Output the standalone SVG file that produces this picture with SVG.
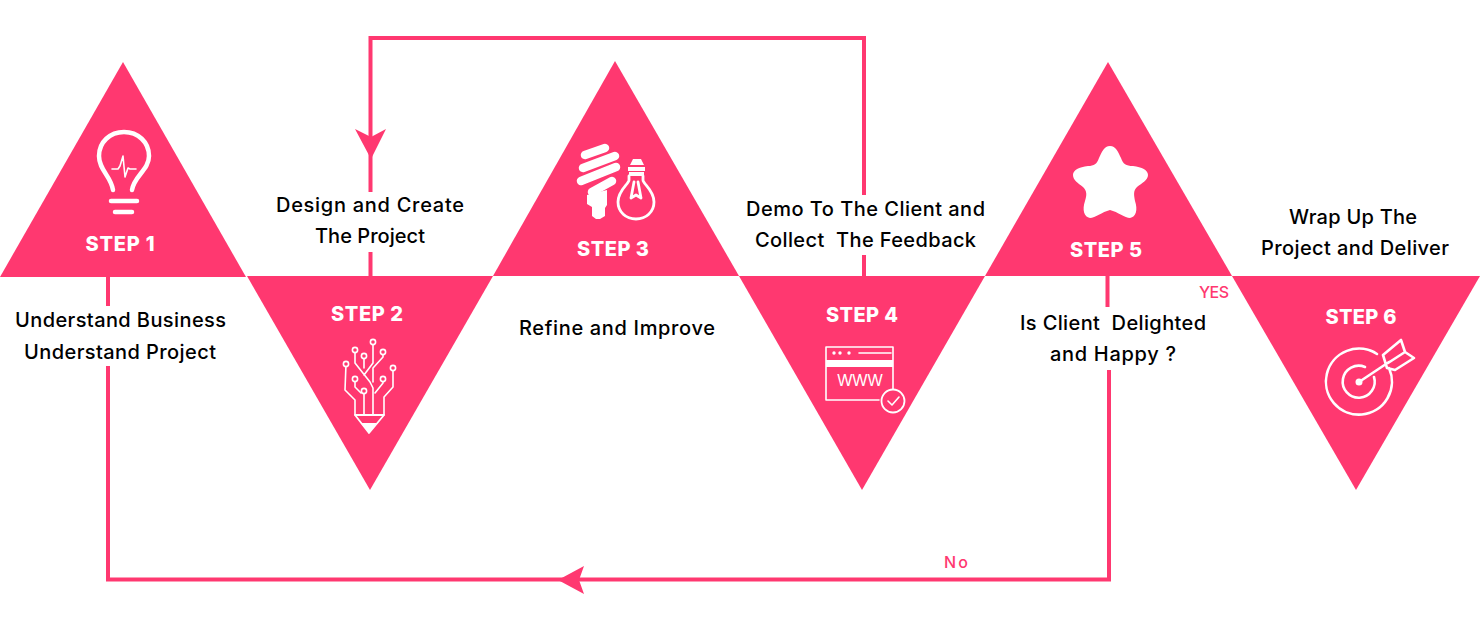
<svg xmlns="http://www.w3.org/2000/svg" width="1480" height="619" viewBox="0 0 1480 619">
<defs><style>
.t{fill:#ff3870}
.c{fill:none;stroke:#ff3870;stroke-width:4}
.a{fill:#ff3870}
.s{font:800 20px Inter,"Liberation Sans",sans-serif;fill:#fff;text-anchor:middle}
.l{font:500 20px Inter,"Liberation Sans",sans-serif;fill:#000;text-anchor:middle}
.k{font:500 16px Inter,"Liberation Sans",sans-serif;fill:#ff3870;text-anchor:middle}
.w{fill:none;stroke:#fff;stroke-width:2.5;stroke-linecap:round;stroke-linejoin:round}
.f{fill:#fff}
</style></defs>
<rect width="1480" height="619" fill="#fff"/>
<g id="step1"><polygon class="t" points="123,62 246,277 0,277"/>
<path class="w" style="stroke-width:4.5" d="M113 190C111 176 99 170 99 156C99 142 110 132 124 132C138 132 149 142 149 156C149 170 134 176 132 190"/>
<path class="w" style="stroke-width:1.6" d="M112 169H118L120 166L123 156L125 177L128 168L130 169H136"/>
<path class="w" style="stroke-width:4.5" d="M111 201H137M115 212H132"/>
<text class="s" x="120" y="251" textLength="69">STEP 1</text></g>
<g id="step2"><polygon class="t" points="247,276 493,276 370,490"/>
<text class="s" x="367" y="321" textLength="72">STEP 2</text>
<path class="w" style="stroke-width:1.6" d="M355 415V400L345 390L346 364M364 415V391M384 415V397L393 387V368M355 350V363L370 382L373 388V415M364 356V368M373 342V363L364 375M383 352V357L373 368V382M383 379V383L375 393M355 379V387L361 393"/>
<g fill="#ff3870" stroke="#fff" stroke-width="1.6"><circle cx="346" cy="364" r="2.6"/><circle cx="355" cy="350" r="2.6"/><circle cx="364" cy="356" r="2.6"/><circle cx="373" cy="342" r="2.6"/><circle cx="383" cy="352" r="2.6"/><circle cx="393" cy="368" r="2.6"/><circle cx="383" cy="379" r="2.6"/><circle cx="355" cy="379" r="2.6"/><circle cx="364" cy="391" r="2.6"/></g>
<path class="w" style="stroke-width:1.8" d="M355 415H384L369 433Z"/>
<path class="f" d="M361 423H377L369 433Z"/>
</g>
<g id="step3"><polygon class="t" points="615,61 739,276 493,276"/>
<path class="w" style="stroke-width:8.500" d="M585 155L605 148M583 168L615 156M581 181L616 167M592 192L612 181"/>
<path class="f" d="M587 195L607 190V205L605 208V216L600 219H596L592 216V207L587 204Z"/>
<path class="w" style="stroke-width:2.8" d="M629 176V180C629 184 618 190 618 202C618 212 626 219 636 219C646 219 654 212 654 202C654 190 643 184 643 180V176M631 198L634 182M641 198L638 182M631 198L636 195L641 198"/>
<path class="f" d="M633 159H641L644 165H630ZM628 167H645V171H628ZM629 172H644V176H629Z"/>
<text class="s" x="613" y="256" textLength="72">STEP 3</text></g>
<g id="step4"><polygon class="t" points="739,276 985,276 862,490"/>
<text class="s" x="862" y="322" textLength="72">STEP 4</text>
<path class="w" style="stroke-width:1.6" d="M879 400H826V347H893V390M859 353H891"/>
<rect class="f" x="826" y="360" width="67" height="7"/>
<g class="f"><circle cx="834" cy="353" r="1.7"/><circle cx="840" cy="353" r="1.7"/><circle cx="849" cy="353" r="1.7"/></g>
<text x="860" y="386" text-anchor="middle" font-family="Inter,sans-serif" font-size="16" font-weight="400" fill="#fff" textLength="46">WWW</text>
<circle cx="893" cy="401" r="11.5" fill="#ff3870" stroke="#fff" stroke-width="1.8"/>
<path class="w" style="stroke-width:1.6" d="M888 401L892 405L899 397"/></g>
<g id="step5"><polygon class="t" points="1108,62 1232,276 985,276"/>
<path class="f" d="M1110 146C1116 146 1118 152 1121 158C1123 164 1126 166 1133 166C1142 167 1148 170 1148 175C1148 180 1142 183 1137 187C1133 191 1134 195 1135 201C1138 210 1136 217 1130 218C1125 218 1118 212 1110 210C1102 212 1095 218 1090 218C1084 217 1082 210 1085 201C1087 195 1087 191 1083 187C1078 183 1073 180 1073 175C1073 170 1079 167 1088 166C1094 166 1097 164 1099 158C1102 152 1104 146 1110 146Z"/>
<text class="s" x="1106" y="257" textLength="72">STEP 5</text></g>
<g id="step6"><polygon class="t" points="1232,276 1480,276 1356,490"/>
<text class="s" x="1361" y="324" textLength="71">STEP 6</text>
<path class="w" style="stroke-width:2.6" d="M1377 354A33 33 0 1 0 1389 368M1365 367A16 16 0 1 0 1374 377M1359 382L1389 362M1383 355L1401 340L1405 352L1414 358L1395 370L1387 368ZM1388 363L1405 352"/>
<circle class="f" cx="1359" cy="382" r="3.5"/></g>
<g id="connectors">
<path class="c" d="M108 276V306M108 366V579.500H1109V370M1107.500 276V307"/>
<path class="c" d="M370.500 192V38H864V195M370.500 252V276M864 255V276"/>
<path class="a" d="M355 129L371 137L386 129L371 159Z"/>
<path class="a" d="M558 580L584 566L579 580L584 594Z"/>
</g>
<g id="labels">
<text class="l" x="120.500" y="327" textLength="211">Understand Business</text>
<text class="l" x="120" y="359" textLength="192">Understand Project</text>
<text class="l" x="370" y="212" textLength="188">Design and Create</text>
<text class="l" x="370" y="243" textLength="110">The Project</text>
<text class="l" x="617" y="335" textLength="196">Refine and Improve</text>
<text class="l" x="865.500" y="216" textLength="239">Demo To The Client and</text>
<text class="l" x="865.500" y="247" textLength="221" xml:space="preserve">Collect  The Feedback</text>
<text class="l" x="1113" y="330" textLength="186" xml:space="preserve">Is Client  Delighted</text>
<text class="l" x="1113" y="361" textLength="126">and Happy ?</text>
<text class="l" x="1353" y="224" textLength="128">Wrap Up The</text>
<text class="l" x="1355" y="255" textLength="188">Project and Deliver</text>
<text class="k" x="1214" y="298" textLength="30">YES</text>
<text class="k" x="956" y="568" textLength="24">No</text>
</g>
</svg>
